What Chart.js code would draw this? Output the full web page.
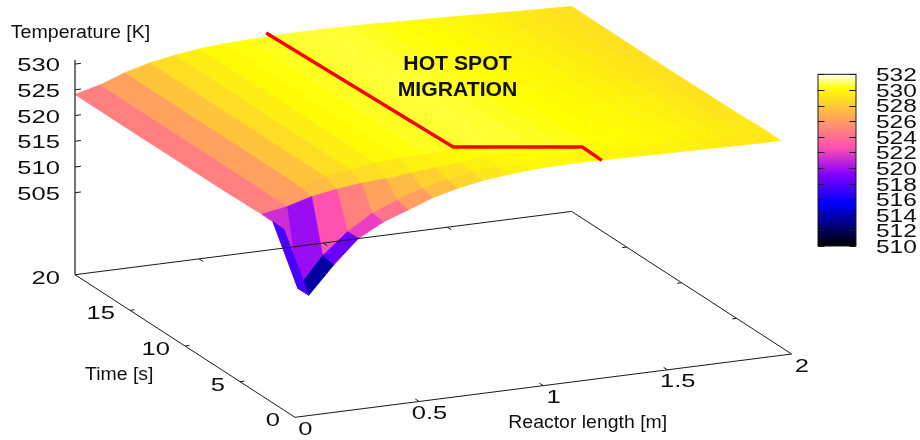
<!DOCTYPE html>
<html>
<head>
<meta charset="utf-8">
<title>Hot spot migration</title>
<script src="https://cdn.jsdelivr.net/npm/chart.js@4"></script>
<style>
  html, body { margin: 0; padding: 0; background: #fff; }
  canvas { position: absolute; }
  #surface { left: 0; top: 0; }
  #colorbar { left: 810px; top: 60px; }
</style>
</head>
<body>
<canvas id="surface" width="920" height="440"></canvas>
<canvas id="colorbar" width="110" height="200"></canvas>
<script>
// grid
var lengths = [0,0.1,0.2,0.3,0.4,0.5,0.6,0.7,0.8,0.9,1,1.1,1.2,1.3,1.4,1.5,1.6,1.7,1.8,1.9,2];
var times = [1,2,3,4,5,6,8,10,14,20];

var temp1s  = [524.2,510.8,516.05,520.6,523.2,524.9,526.7,527.9,528.8,529.3,529.7,529.85,529.9,529.8,529.7,529.6,529.5,529.4,529.3,529.2,529.14];
var temp2s  = [524.3,510.76,516.47,520.52,523.48,525.45,527.11,528.11,529.1,529.7,530,530.15,530.2,530.1,530,529.9,529.8,529.65,529.5,529.35,529.2];
var temp3s  = [524.36,525.22,526.56,527.37,527.92,528.2,528.69,529.1,529.5,530,530.3,530.4,530.45,530.4,530.25,530.1,529.95,529.8,529.6,529.4,529.2];
var temp4s  = [524.3,525.3,527,528.43,529.12,529.81,530.22,530.35,530.5,530.6,530.6,530.55,530.45,530.35,530.2,530.05,529.9,529.75,529.55,529.3,529.1];
var temp5s  = [524.25,525.3,527.05,528.4,529.2,529.85,530.25,530.4,530.55,530.62,530.62,530.55,530.4,530.3,530.15,530,529.85,529.7,529.5,529.2,529];
var temp6s  = [524.2,525.3,527.05,528.38,529.2,529.85,530.25,530.4,530.55,530.62,530.62,530.55,530.4,530.3,530.15,530,529.85,529.7,529.5,529.2,529];
var temp8s  = [524.15,525.3,527.05,528.36,529.2,529.85,530.25,530.4,530.55,530.62,530.62,530.55,530.4,530.3,530.15,530,529.85,529.7,529.45,529.15,528.95];
var temp10s = [524.15,525.3,527.05,528.35,529.2,529.85,530.25,530.4,530.55,530.62,530.62,530.55,530.4,530.25,530.1,529.95,529.8,529.6,529.4,529.1,528.9];
var temp14s = [524.1,525.3,527.05,528.35,529.2,529.85,530.25,530.4,530.55,530.62,530.62,530.55,530.4,530.25,530.05,529.9,529.7,529.5,529.3,529.05,528.85];
var temp20s = [524.1,525.3,527.05,528.35,529.2,529.85,530.25,530.4,530.55,530.62,530.62,530.55,530.4,530.2,530.05,529.85,529.65,529.45,529.25,529.05,528.9];
var tempRows = [temp1s,temp2s,temp3s,temp4s,temp5s,temp6s,temp8s,temp10s,temp14s,temp20s];

// hot spot path: length, time, temperature
var hotLength = [0.77,0.77,1.29,1.28];
var hotTime = [20,3,3,1];
var hotTemp = [531.3,532.7,529.5,529.75];

var lengthTicks = [0,0.5,1,1.5,2];
var timeTicks = [0,5,10,15,20];
var tempTicks = [505,510,515,520,525,530];
var barTicks = [510,512,514,516,518,520,522,524,526,528,530,532];

var tempFloor = 489.07, tempTop = 530.8;
var barMin = 510, barMax = 532;

// view of the box: screen position of length 0, time 0 and what one unit moves
function project(l, t, temp) {
  return {
    x: 295 + 248.3 * l - 11 * t,
    y: 417.3 - 31.65 * l - 7.13 * t - 5.146 * (temp - tempFloor)
  };
}

function clamp(v) { return Math.max(0, Math.min(1, v)); }

// gnuplot rgbformulae 30,31,32
function palette(temp) {
  var x = clamp((temp - barMin) / (barMax - barMin));
  var r = x / 0.32 - 0.78125;
  var g = 2 * x - 0.84;
  var b = x < 0.25 ? 4 * x : x < 0.42 ? 1 : x < 0.92 ? -2 * x + 1.84 : x / 0.08 - 11.5;
  return 'rgb(' + Math.round(clamp(r) * 255) + ',' + Math.round(clamp(g) * 255) + ',' + Math.round(clamp(b) * 255) + ')';
}

function lineSet(points, color, width) {
  return { data: points, showLine: true, fill: false, borderColor: color, borderWidth: width, pointRadius: 0, tension: 0 };
}

var datasets = [];

// back rows first, each row from right to left, like pm3d paints it
for (var r = times.length - 2; r >= 0; r--) {
  for (var c = lengths.length - 2; c >= 0; c--) {
    var mean = (tempRows[r][c] + tempRows[r][c + 1] + tempRows[r + 1][c] + tempRows[r + 1][c + 1]) / 4;
    var color = palette(mean);
    datasets.push({
      data: [
        project(lengths[c], times[r], tempRows[r][c]),
        project(lengths[c + 1], times[r], tempRows[r][c + 1]),
        project(lengths[c + 1], times[r + 1], tempRows[r + 1][c + 1]),
        project(lengths[c], times[r + 1], tempRows[r + 1][c]),
        project(lengths[c], times[r], tempRows[r][c])
      ],
      showLine: true,
      fill: 'shape',
      backgroundColor: color,
      borderColor: color,
      borderWidth: 0.8,
      pointRadius: 0,
      tension: 0
    });
  }
}

// box on the floor and the temperature axis
datasets.push(lineSet([
  project(0, 20, tempFloor), project(0, 0, tempFloor), project(2, 0, tempFloor),
  project(2, 20, tempFloor), project(0, 20, tempFloor)
], '#1a1a1a', 1));
datasets.push(lineSet([project(0, 20, tempFloor), project(0, 20, tempTop)], '#1a1a1a', 1.2));

lengthTicks.slice(1, -1).forEach(function(l) {
  datasets.push(lineSet([project(l, 0, tempFloor), project(l, 0.35, tempFloor)], '#1a1a1a', 1));
  datasets.push(lineSet([project(l, 20, tempFloor), project(l, 19.65, tempFloor)], '#1a1a1a', 1));
});
timeTicks.slice(1, -1).forEach(function(t) {
  datasets.push(lineSet([project(0, t, tempFloor), project(0.018, t, tempFloor)], '#1a1a1a', 1));
  datasets.push(lineSet([project(2, t, tempFloor), project(1.982, t, tempFloor)], '#1a1a1a', 1));
});
tempTicks.forEach(function(v) {
  datasets.push(lineSet([project(0, 20, v), project(0.024, 20, v)], '#1a1a1a', 1));
});

datasets.push(lineSet(hotLength.map(function(l, i) {
  return project(l, hotTime[i], hotTemp[i]);
}), '#ff0000', 3.4));

// chart.js paints the first dataset last
datasets.reverse();

function drawText(ctx, text, x, y, size, align, stretch, bold) {
  ctx.save();
  ctx.translate(x, y + 1);
  ctx.scale(stretch, 1);
  ctx.font = (bold ? 'bold ' : '') + size + 'px "Liberation Sans", Arial, sans-serif';
  ctx.fillStyle = '#111';
  ctx.textAlign = align;
  ctx.textBaseline = 'middle';
  ctx.fillText(text, 0, 0);
  ctx.restore();
}

var surfaceLabels = {
  id: 'surfaceLabels',
  afterDraw: function(chart) {
    var ctx = chart.ctx;
    var xs = chart.scales.x, ys = chart.scales.y;
    function at(p) { return { x: xs.getPixelForValue(p.x), y: ys.getPixelForValue(p.y) }; }
    tempTicks.forEach(function(v) {
      var p = at(project(0, 20, v));
      drawText(ctx, String(v), p.x - 15, p.y + 1, 18, 'right', 1.42);
    });
    timeTicks.forEach(function(t) {
      var p = at(project(0, t, tempFloor));
      drawText(ctx, String(t), p.x - 15, p.y + 3, 18, 'right', 1.42);
    });
    lengthTicks.forEach(function(l) {
      var p = at(project(l, 0, tempFloor));
      drawText(ctx, String(l), p.x + 10.3, p.y + 11.7, 18, 'center', 1.42);
    });
    drawText(ctx, 'Temperature [K]', 10.7, 31.7, 18, 'left', 1.09);
    drawText(ctx, 'Time [s]', 85, 374.3, 18, 'left', 1.08);
    drawText(ctx, 'Reactor length [m]', 508.3, 421.7, 18, 'left', 1.08);
    drawText(ctx, 'HOT SPOT', 457.5, 63.3, 20, 'center', 1.06, true);
    drawText(ctx, 'MIGRATION', 457.5, 89.3, 20, 'center', 1.06, true);
  }
};

new Chart(document.getElementById('surface'), {
  type: 'scatter',
  data: { datasets: datasets },
  plugins: [surfaceLabels],
  options: {
    responsive: false,
    animation: false,
    devicePixelRatio: 1,
    layout: { padding: 0 },
    plugins: { legend: { display: false }, tooltip: { enabled: false } },
    events: [],
    scales: {
      x: { type: 'linear', min: 0, max: 920, display: false },
      y: { type: 'linear', min: 0, max: 440, reverse: true, display: false }
    }
  }
});

var barDecor = {
  id: 'barDecor',
  afterDraw: function(chart) {
    var ctx = chart.ctx, a = chart.chartArea, ys = chart.scales.y;
    ctx.save();
    ctx.strokeStyle = '#1a1a1a';
    ctx.lineWidth = 1;
    ctx.strokeRect(a.left, a.top, a.right - a.left, a.bottom - a.top);
    barTicks.forEach(function(v) {
      var py = Math.round(ys.getPixelForValue(v)) + 0.5;
      ctx.beginPath();
      ctx.moveTo(a.left, py);
      ctx.lineTo(a.left + 6.5, py);
      ctx.moveTo(a.right, py);
      ctx.lineTo(a.right - 6.5, py);
      ctx.stroke();
      drawText(ctx, String(v), a.right + 20, ys.getPixelForValue(v) + 1, 18, 'left', 1.36);
    });
    ctx.restore();
  }
};

new Chart(document.getElementById('colorbar'), {
  type: 'bar',
  data: {
    labels: ['T'],
    datasets: [{
      data: [[barMin, barMax]],
      barPercentage: 1,
      categoryPercentage: 1,
      backgroundColor: function(c) {
        var a = c.chart.chartArea;
        if (!a) return '#000';
        var g = c.chart.ctx.createLinearGradient(0, a.bottom, 0, a.top);
        for (var i = 0; i <= 88; i++) {
          g.addColorStop(i / 88, palette(barMin + (barMax - barMin) * i / 88));
        }
        return g;
      }
    }]
  },
  plugins: [barDecor],
  options: {
    responsive: false,
    animation: false,
    devicePixelRatio: 1,
    layout: { padding: { left: 8, right: 64, top: 14.3, bottom: 14 } },
    plugins: { legend: { display: false }, tooltip: { enabled: false } },
    events: [],
    scales: {
      x: { display: false },
      y: { min: barMin, max: barMax, display: false }
    }
  }
});
</script>
</body>
</html>
